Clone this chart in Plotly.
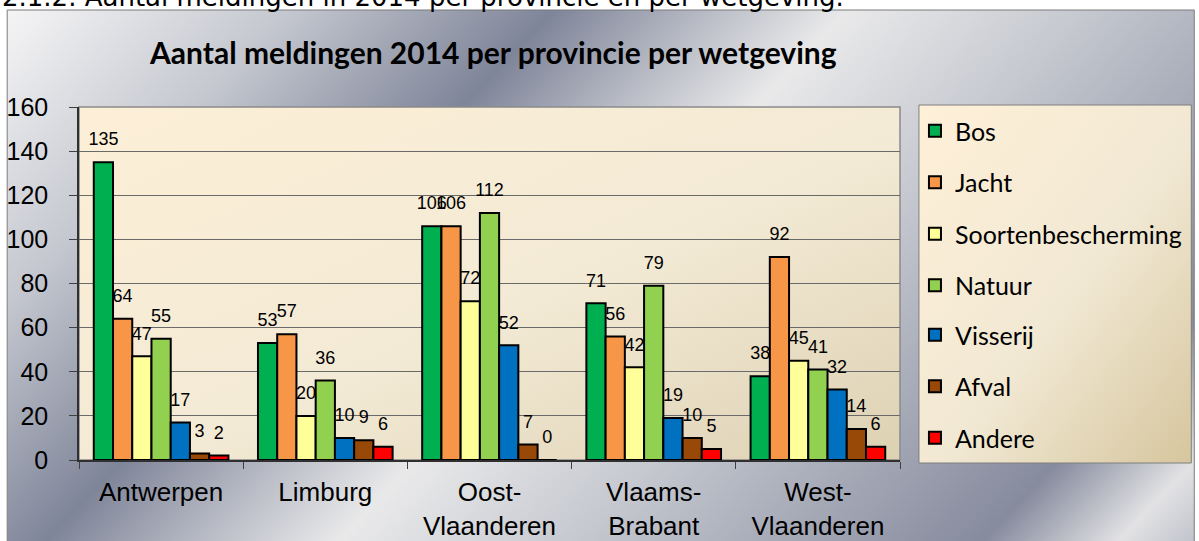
import base64
import plotly.graph_objects as go

# ---------------- data ----------------
provinces = ["Antwerpen", "Limburg", "Oost-<br>Vlaanderen", "Vlaams-<br>Brabant", "West-<br>Vlaanderen"]
series_names = ["Bos", "Jacht", "Soortenbescherming", "Natuur", "Visserij", "Afval", "Andere"]
bos = [135, 53, 106, 71, 38]
jacht = [64, 57, 106, 56, 92]
soortenbescherming = [47, 20, 72, 42, 45]
natuur = [55, 36, 112, 79, 41]
visserij = [17, 10, 52, 19, 32]
afval = [3, 9, 7, 10, 14]
andere = [2, 6, 0, 5, 6]
series_values = [bos, jacht, soortenbescherming, natuur, visserij, afval, andere]
colors = ["#00b050", "#f79646", "#ffff99", "#92d050", "#0070c0", "#984807", "#ff0000"]
y_ticks = [0, 20, 40, 60, 80, 100, 120, 140, 160]
title = "Aantal meldingen 2014 per provincie per wetgeving"
doc_heading = "2.1.2. Aantal meldingen in 2014 per provincie en per wetgeving."

# ---------------- layout geometry (pixels) ----------------
W, H = 1199, 541
L, R, T, B = 79, 902, 107, 460
PW, PH = R - L, B - T


def px_x(p):
    return (p - L) / PW


def px_y(p):
    return (B - p) / PH


def svg_uri(svg):
    return "data:image/svg+xml;base64," + base64.b64encode(svg.encode()).decode()


# metallic chart-area background (diagonal chrome gradient)
cx0, cy0, cx1, cy1 = 7, 10, 1197, 545
bg_w, bg_h = cx1 - cx0, cy1 - cy0
stops = [(0.0, "#f6f6f6"), (0.035, "#eeeef0"), (0.175, "#c4c7cf"), (0.329, "#7f8599"),
         (0.419, "#b8bbc5"), (0.50, "#e9e9ea"), (0.64, "#c5c8cf"), (0.876, "#868b9e"),
         (0.955, "#e2e2e4"), (1.0, "#c0c3cb")]
stop_xml = "".join(f'<stop offset="{o}" stop-color="{c}"/>' for o, c in stops)
bg_svg = (f'<svg xmlns="http://www.w3.org/2000/svg" width="{bg_w}" height="{bg_h}" '
          f'viewBox="0 0 {bg_w} {bg_h}" preserveAspectRatio="none">'
          f'<defs><linearGradient id="g" gradientUnits="userSpaceOnUse" '
          f'x1="{-cx0}" y1="{-cy0}" x2="{894 - cx0}" y2="{858 - cy0}">'
          f'{stop_xml}</linearGradient></defs>'
          f'<rect x="0" y="0" width="{bg_w}" height="{bg_h}" fill="url(#g)"/></svg>')


def beige_svg(w, h, c1, c2, c3):
    return (f'<svg xmlns="http://www.w3.org/2000/svg" width="{w}" height="{h}" '
            f'viewBox="0 0 {w} {h}" preserveAspectRatio="none">'
            f'<defs><linearGradient id="b" x1="0" y1="0" x2="1" y2="1">'
            f'<stop offset="0" stop-color="{c1}"/><stop offset="0.55" stop-color="{c2}"/>'
            f'<stop offset="1" stop-color="{c3}"/></linearGradient></defs>'
            f'<rect x="0" y="0" width="{w}" height="{h}" fill="url(#b)"/></svg>')


plot_svg = beige_svg(PW, PH, "#fdefd7", "#f3ead5", "#ddd1b3")
leg_x0, leg_x1, leg_y0, leg_y1 = 921, 1194, 105, 463
leg_svg = beige_svg(leg_x1 - leg_x0, leg_y1 - leg_y0, "#fff0d8", "#f1e8d3", "#d6c69e")

label_font = dict(family="Liberation Sans, Arial", size=18, color="black")

fig = go.Figure()
for i, (name, vals, col) in enumerate(zip(series_names, series_values, colors)):
    fig.add_trace(go.Bar(
        x=provinces, y=vals, name=name, legendgroup=name,
        legend="legend" if i < 4 else "legend2",
        marker=dict(color=col, line=dict(color="black", width=2)),
        hoverinfo="x+y+name",
    ))
# value labels, grouped like the bars
for name, vals in zip(series_names, series_values):
    fig.add_trace(go.Scatter(
        x=provinces, y=vals, mode="markers+text", text=[str(v) for v in vals],
        textposition="top center", textfont=label_font,
        marker=dict(size=18, opacity=0, color="black"),
        showlegend=False, hoverinfo="skip", cliponaxis=False, name=name,
    ))

legend_common = dict(
    xanchor="left", yanchor="top",
    bgcolor="rgba(0,0,0,0)", borderwidth=0,
    font=dict(family="Lato, Noto Sans", size=25, color="black"),
    traceorder="grouped", tracegroupgap=16, itemclick=False, itemdoubleclick=False,
)

fig.update_layout(
    width=W, height=H,
    margin=dict(l=L, r=W - R, t=T, b=H - B, pad=0),
    paper_bgcolor="white",
    plot_bgcolor="rgba(0,0,0,0)",
    barmode="group", bargap=0.18, bargroupgap=0,
    scattermode="group", scattergap=0.18,
    font=dict(family="Liberation Sans, Arial", color="black"),
    showlegend=True,
    legend=dict(x=px_x(917), y=px_y(108), **legend_common),
    legend2=dict(x=px_x(917), y=px_y(312), **legend_common),
    xaxis=dict(
        type="category", showgrid=False, tickson="boundaries",
        ticks="outside", ticklen=7, tickcolor="#404040", tickwidth=1,
        showline=True, linecolor="#303030", linewidth=1.5,
        tickfont=dict(family="Liberation Sans, Arial", size=26, color="black"),
        ticklabelstandoff=8, automargin=False,
    ),
    yaxis=dict(
        range=[0, 160], tickvals=y_ticks, showgrid=True, gridcolor="#6a6a6a", gridwidth=1,
        ticks="outside", ticklen=8, tickcolor="#404040",
        showline=True, linecolor="#303030", linewidth=1.5, zeroline=False,
        tickfont=dict(family="Liberation Sans, Arial", size=25, color="black"),
        ticklabelstandoff=16, automargin=False,
    ),
    images=[
        dict(source=svg_uri(bg_svg), xref="paper", yref="paper",
             x=px_x(cx0), y=px_y(cy0), sizex=bg_w / PW, sizey=bg_h / PH,
             xanchor="left", yanchor="top", sizing="stretch", layer="below"),
        dict(source=svg_uri(plot_svg), xref="paper", yref="paper",
             x=0, y=1, sizex=1, sizey=1,
             xanchor="left", yanchor="top", sizing="stretch", layer="below"),
        dict(source=svg_uri(leg_svg), xref="paper", yref="paper",
             x=px_x(leg_x0), y=px_y(leg_y0), sizex=(leg_x1 - leg_x0) / PW, sizey=(leg_y1 - leg_y0) / PH,
             xanchor="left", yanchor="top", sizing="stretch", layer="below"),
    ],
    shapes=[
        dict(type="rect", xref="paper", yref="paper", x0=px_x(cx0), x1=px_x(cx1), y0=px_y(560), y1=px_y(cy0),
             line=dict(color="#7a7a7a", width=1), fillcolor="rgba(0,0,0,0)", layer="below"),
        dict(type="rect", xref="paper", yref="paper", x0=0, x1=1, y0=0, y1=1,
             line=dict(color="#8a8a8a", width=1.5), fillcolor="rgba(0,0,0,0)", layer="below"),
        dict(type="rect", xref="paper", yref="paper", x0=px_x(leg_x0), x1=px_x(leg_x1),
             y0=px_y(leg_y1), y1=px_y(leg_y0),
             line=dict(color="#7f7f7f", width=1), fillcolor="rgba(0,0,0,0)", layer="below"),
    ],
    annotations=[
        dict(text=f"<b>{title}</b>", xref="paper", yref="paper", x=px_x(494), y=px_y(52),
             xanchor="center", yanchor="middle", showarrow=False,
             font=dict(family="Lato, Noto Sans", size=30, color="black")),
        dict(text=doc_heading, xref="paper", yref="paper", x=px_x(0), y=px_y(14),
             xanchor="left", yanchor="bottom", showarrow=False,
             font=dict(family="DejaVu Sans, Verdana", size=26, color="black")),
    ],
)

fig.write_html("out.html", config={"displayModeBar": False},
               post_script="document.body.style.margin='0px';")
